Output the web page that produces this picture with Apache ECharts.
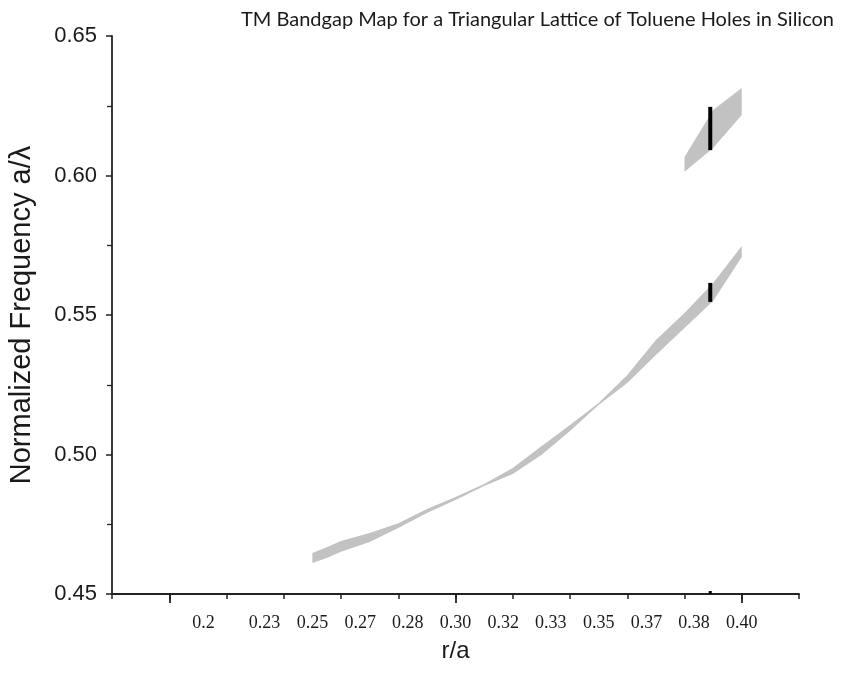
<!DOCTYPE html>
<html>
<head>
<meta charset="utf-8">
<title>TM Bandgap Map</title>
<script src="https://cdn.jsdelivr.net/npm/echarts@6/dist/echarts.min.js"></script>
<style>
  html, body { margin: 0; padding: 0; background: #ffffff; }
  #chart { width: 842px; height: 679px; }
</style>
</head>
<body>
<div id="chart"></div>
<script>
// Lower (first) TM gap: r/a samples with gap top and bottom edges (a/λ)
const lowerBandR      = [0.250, 0.255, 0.260, 0.270, 0.280, 0.290, 0.300, 0.310, 0.320, 0.330, 0.340, 0.350, 0.360, 0.370, 0.380, 0.390, 0.400];
const lowerBandTop    = [0.4647, 0.4668, 0.4690, 0.4719, 0.4754, 0.4805, 0.4848, 0.4894, 0.4952, 0.5030, 0.5106, 0.5185, 0.5285, 0.5410, 0.5507, 0.5615, 0.5747];
const lowerBandBottom = [0.4611, 0.4629, 0.4651, 0.4686, 0.4737, 0.4790, 0.4837, 0.4887, 0.4930, 0.4998, 0.5084, 0.5177, 0.5256, 0.5357, 0.5453, 0.5550, 0.5708];

// Upper (second) TM gap
const upperBandR      = [0.380, 0.390, 0.400];
const upperBandTop    = [0.6066, 0.6235, 0.6314];
const upperBandBottom = [0.6013, 0.6099, 0.6217];

// Gap extents marked at the chosen r/a
const markerR      = 0.389;
const upperMarker  = [0.6091, 0.6246];
const lowerMarker  = [0.5547, 0.5615];
const baseMarker   = [0.4500, 0.4511];

// Axis ticks and labels
const xTickLabelValues = [0.212, 0.2333, 0.25, 0.2667, 0.2833, 0.30, 0.3167, 0.3333, 0.35, 0.3667, 0.3833, 0.40];
const xTickLabels      = ['0.2', '0.23', '0.25', '0.27', '0.28', '0.30', '0.32', '0.33', '0.35', '0.37', '0.38', '0.40'];
const xMajorTicks      = [0.20, 0.30, 0.40];
const yTickValues      = [0.45, 0.50, 0.55, 0.60, 0.65];
const yTickLabels      = ['0.45', '0.50', '0.55', '0.60', '0.65'];

const axisColor = '#222222';
const bandColor = '#c2c2c2';

function labelFor(values, texts, v) {
  let best = 0;
  for (let i = 1; i < values.length; i++) {
    if (Math.abs(values[i] - v) < Math.abs(values[best] - v)) best = i;
  }
  return texts[best];
}

// Filled gap region between the top and bottom edges
function bandSeries(name, rs, top, bottom) {
  return {
    name: name,
    type: 'custom',
    coordinateSystem: 'cartesian2d',
    silent: true,
    z: 2,
    data: [[rs[0], bottom[0]]],
    renderItem: function (params, api) {
      const pts = [];
      for (let i = 0; i < rs.length; i++) pts.push(api.coord([rs[i], top[i]]));
      for (let i = rs.length - 1; i >= 0; i--) pts.push(api.coord([rs[i], bottom[i]]));
      return { type: 'polygon', shape: { points: pts }, style: { fill: bandColor } };
    }
  };
}

function markerSeries(name, range, width) {
  return {
    name: name,
    type: 'line',
    silent: true,
    z: 5,
    showSymbol: false,
    symbol: 'none',
    data: [[markerR, range[0]], [markerR, range[1]]],
    lineStyle: { color: '#000000', width: width, cap: 'butt' }
  };
}

const chart = echarts.init(document.getElementById('chart'), null, { renderer: 'canvas' });

chart.setOption({
  animation: false,
  backgroundColor: '#ffffff',
  title: {
    text: 'TM Bandgap Map for a Triangular Lattice of Toluene Holes in Silicon',
    left: 236,
    top: 5,
    textStyle: { fontFamily: 'Lato', fontSize: 20, fontWeight: 'normal', color: '#1a1a1a' }
  },
  grid: { left: 112, right: 43, top: 36, bottom: 85, outerBoundsMode: 'none' },
  xAxis: [
    {
      type: 'value',
      position: 'bottom',
      min: 0.18,
      max: 0.42,
      interval: 0.02,
      name: 'r/a',
      nameLocation: 'middle',
      nameGap: 45,
      nameTextStyle: { fontFamily: 'Liberation Sans', fontSize: 24, color: '#1a1a1a' },
      axisLine: { show: true, onZero: false, lineStyle: { color: axisColor, width: 1.8 } },
      axisTick: { show: true, length: 5, lineStyle: { color: axisColor, width: 1.5 } },
      splitLine: { show: false },
      axisLabel: {
        customValues: xTickLabelValues,
        formatter: function (v) { return labelFor(xTickLabelValues, xTickLabels, v); },
        fontFamily: 'Liberation Serif',
        fontSize: 18,
        color: '#1a1a1a',
        margin: 20
      }
    },
    {
      type: 'value',
      position: 'bottom',
      min: 0.18,
      max: 0.42,
      axisLine: { show: false },
      axisTick: { show: true, customValues: xMajorTicks, length: 9, lineStyle: { color: axisColor, width: 1.8 } },
      axisLabel: { show: false },
      splitLine: { show: false }
    }
  ],
  yAxis: {
    type: 'value',
    min: 0.45,
    max: 0.65,
    interval: 0.05,
    name: 'Normalized Frequency a/λ',
    nameLocation: 'middle',
    nameRotate: 90,
    nameGap: 76,
    nameTextStyle: { fontFamily: 'Liberation Sans', fontSize: 29, color: '#1a1a1a' },
    axisLine: { show: true, onZero: false, lineStyle: { color: axisColor, width: 1.8 } },
    axisTick: { show: true, length: 6, lineStyle: { color: axisColor, width: 1.5 } },
    minorTick: { show: true, splitNumber: 2, length: 5, lineStyle: { color: axisColor, width: 1.3 } },
    splitLine: { show: false },
    axisLabel: {
      customValues: yTickValues,
      formatter: function (v) { return labelFor(yTickValues, yTickLabels, v); },
      fontFamily: 'Liberation Sans',
      fontSize: 22,
      color: '#1a1a1a',
      margin: 15
    }
  },
  series: [
    bandSeries('lower gap', lowerBandR, lowerBandTop, lowerBandBottom),
    bandSeries('upper gap', upperBandR, upperBandTop, upperBandBottom),
    markerSeries('upper marker', upperMarker, 4),
    markerSeries('lower marker', lowerMarker, 4),
    markerSeries('base marker', baseMarker, 3)
  ]
});
</script>
</body>
</html>
